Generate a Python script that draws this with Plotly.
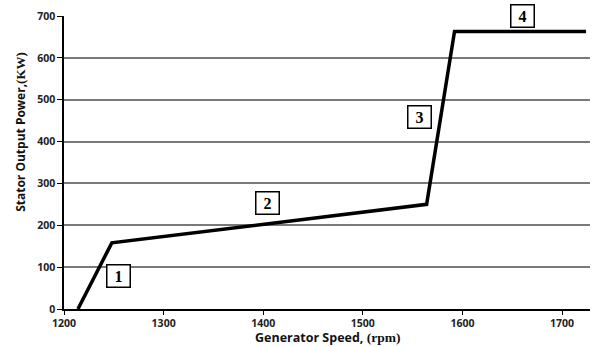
import plotly.graph_objects as go

speed_rpm = [1214, 1248, 1564, 1592, 1724]
power_kw = [0, 158, 250, 663, 663]

region_labels = ["1", "2", "3", "4"]
label_speed = [1255, 1404, 1557, 1660]
label_power = [79, 253, 458, 700]

x_ticks = [1200, 1300, 1400, 1500, 1600, 1700]
y_ticks = [0, 100, 200, 300, 400, 500, 600, 700]

fig = go.Figure()
fig.add_trace(go.Scatter(x=speed_rpm, y=power_kw, mode="lines",
                         line=dict(color="black", width=3.5), showlegend=False))

for t, xv, yv in zip(region_labels, label_speed, label_power):
    fig.add_annotation(x=xv, y=yv, text="<b>%s</b>" % t, showarrow=False,
                       font=dict(family="Liberation Serif", size=16, color="black"),
                       bgcolor="white", bordercolor="black", borderwidth=1.5,
                       borderpad=2, width=18, height=17)

fig.add_annotation(xref="paper", yref="paper", x=0.5, y=-0.1297, xanchor="center", yanchor="bottom",
                   text="<b>Generator Speed, </b><b><span style=\"font-family:Liberation Serif;font-size:13.5px\">(rpm)</span></b>",
                   font=dict(size=12.5, family="Open Sans", color="#111"), showarrow=False,
                   borderpad=0)
fig.add_annotation(xref="paper", yref="paper", x=-0.084, y=0.604, xanchor="center", yanchor="middle",
                   textangle=-90,
                   text="<b>Stator Output Power,</b><b><span style=\"font-family:Liberation Serif;font-size:13px\">(KW)</span></b>",
                   font=dict(size=12, family="Open Sans", color="#111"), showarrow=False)

fig.update_layout(
    width=594, height=347,
    margin=dict(l=64, r=4, t=16, b=38, autoexpand=False),
    paper_bgcolor="white", plot_bgcolor="white",
    font=dict(family="Open Sans", color="#222"),
    xaxis=dict(range=[1200, 1728], tickvals=x_ticks, showgrid=False, automargin=False,
               showline=True, linecolor="black", linewidth=1.5,
               ticks="outside", ticklen=4, tickcolor="black",
               tickfont=dict(size=10.5, family="Open Sans", weight="bold"),
               zeroline=False),
    yaxis=dict(range=[0, 700], tickvals=y_ticks, showgrid=True, automargin=False,
               gridcolor="#7a7a7a", gridwidth=1.5,
               showline=True, linecolor="black", linewidth=1.5,
               ticks="outside", ticklen=5, tickcolor="black",
               tickfont=dict(size=10.5, family="Open Sans", weight="bold"),
               zeroline=False),
)

fig.write_html("out.html", config={"displayModeBar": False},
               post_script="document.body.style.margin='0';document.body.style.overflow='hidden';")
